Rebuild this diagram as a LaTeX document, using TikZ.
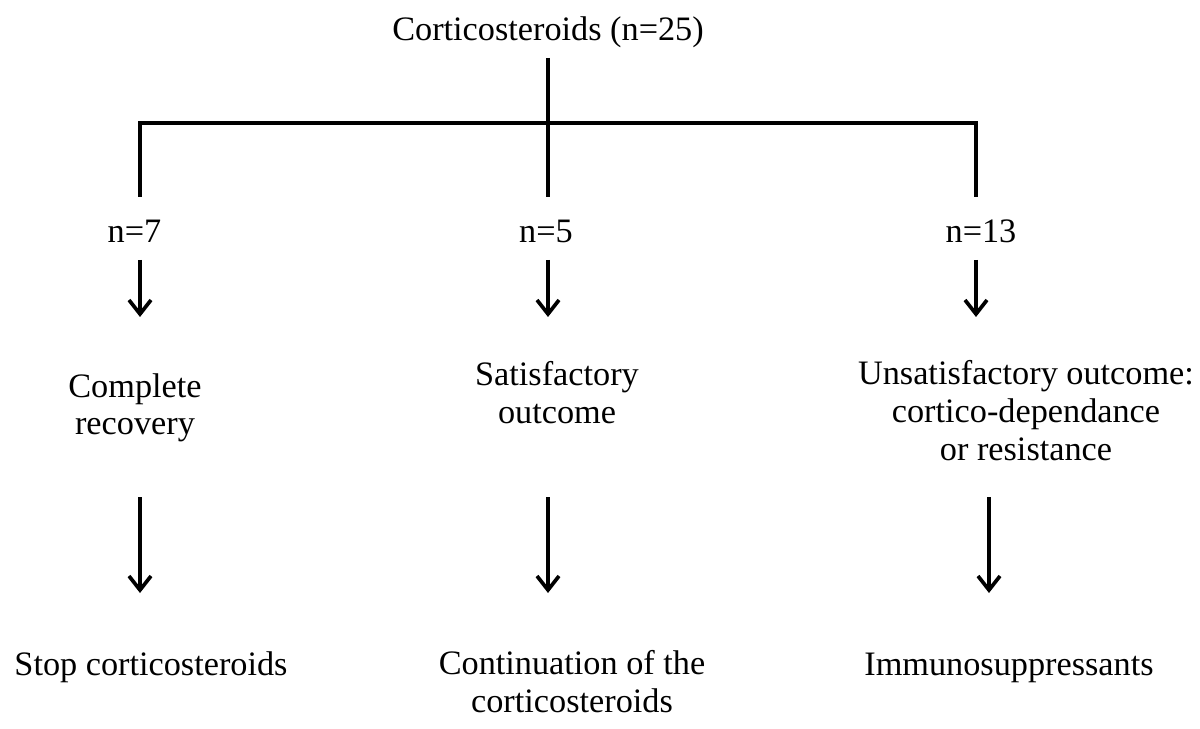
\documentclass[tikz,border=0pt]{standalone}
\usepackage{fontspec}
\setmainfont{Liberation Serif}
\usepackage{tikz}
\usetikzlibrary{arrows.meta, positioning, calc}

\begin{document}
\begin{tikzpicture}[x=0.02cm, y=-0.02cm, line width=2.1pt,
    txt/.style={inner sep=0pt, anchor=base, align=center, font=\fontsize{19.5}{21.6}\selectfont},
    arr/.style={-{Straight Barb[length=0.28cm, width=0.44cm]}}]
      \useasboundingbox (0,0) rectangle (1200,729);

      % top of the tree
      \node[txt] (root) at (548,41) {Corticosteroids (n=25)};
      \coordinate (top) at (548,58);
      \coordinate (hubL) at (140,123);
      \coordinate (hubR) at (976,123);
      \coordinate (endL) at (140,197);
      \coordinate (endM) at (548,197);
      \coordinate (endR) at (976,197);

      \draw (top) -- (endM);
      \draw (endL) -- (hubL) -- (hubR) -- (endR);

      % groups
      \node[txt] (n7) at (134.5,243) {n=7};
      \node[txt] (n5) at (546,243) {n=5};
      \node[txt] (n13) at (981,243) {n=13};

      \node[txt] (complete) at (135,435) {Complete\\recovery};
      \node[txt] (satisf) at (557,423) {Satisfactory\\outcome};
      \node[txt] (unsatisf) at (1026,460) {Unsatisfactory outcome:\\cortico-dependance\\or resistance};

      \node[txt] (stop) at (151,675) {Stop corticosteroids};
      \node[txt] (contin) at (572,712) {Continuation of the\\corticosteroids};
      \node[txt] (immuno) at (1009,675) {Immunosuppressants};

      % arrows
      \foreach \x/\i in {140/1, 548/2, 976/3} {
        \coordinate (s\i) at (\x,260);
        \coordinate (t\i) at (\x,317);
        \draw[arr] (s\i) -- (t\i);
      }
      \foreach \x/\i in {140/1, 548/2, 989/3} {
        \coordinate (u\i) at (\x,497);
        \coordinate (v\i) at (\x,593);
        \draw[arr] (u\i) -- (v\i);
      }
    \end{tikzpicture}
\end{document}
